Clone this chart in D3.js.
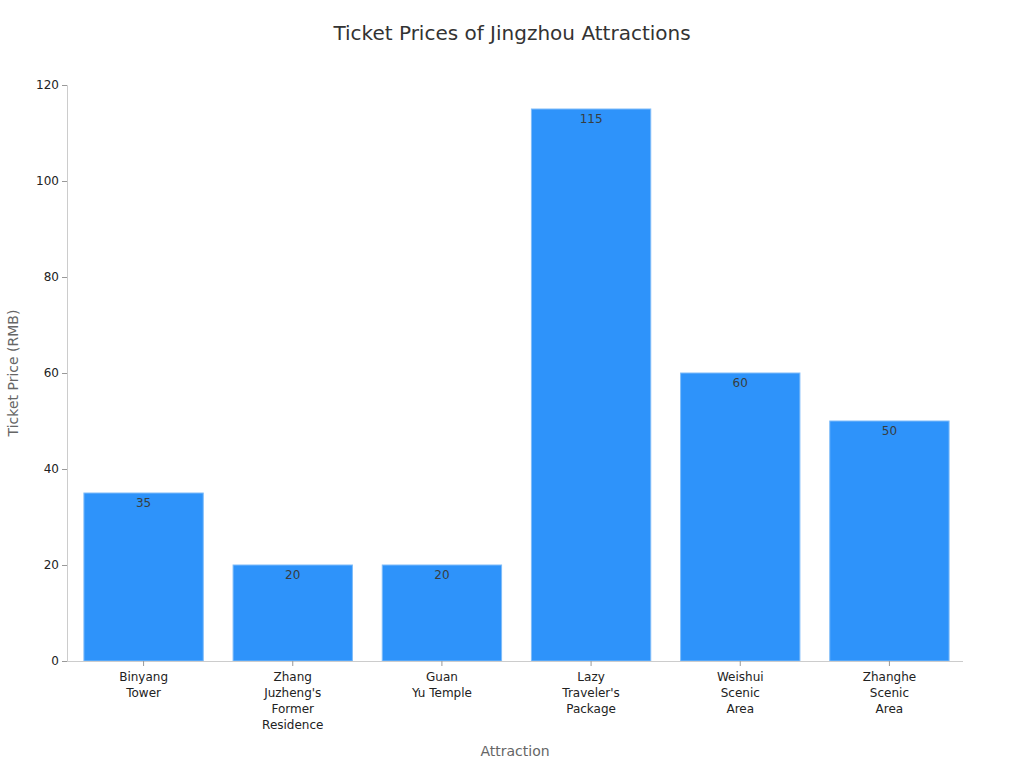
<!DOCTYPE html>
<html>
<head>
<meta charset="utf-8">
<script src="https://cdn.jsdelivr.net/npm/d3@7"></script>
<style>
  body { margin: 0; background: #fff; font-family: "DejaVu Sans", sans-serif; }
</style>
</head>
<body>
<div id="chart"></div>
<script>
// chart data
const attractions = [
  ["Binyang", "Tower"],
  ["Zhang", "Juzheng's", "Former", "Residence"],
  ["Guan", "Yu Temple"],
  ["Lazy", "Traveler's", "Package"],
  ["Weishui", "Scenic", "Area"],
  ["Zhanghe", "Scenic", "Area"]
];
const prices = [35, 20, 20, 115, 60, 50];
const yTicks = [0, 20, 40, 60, 80, 100, 120];

const width = 1024;
const height = 768;
const margin = { top: 85, right: 61, bottom: 107, left: 67 };

const svg = d3.select("#chart")
  .append("svg")
  .attr("width", width)
  .attr("height", height);

const names = attractions.map(d => d.join(" "));

// bands sit slightly right of the plot start, as in the original
const xScale = d3.scaleBand()
  .domain(names)
  .range([margin.left + 2, width - margin.right + 1])
  .paddingInner(0.2)
  .paddingOuter(0.1);

const yScale = d3.scaleLinear()
  .domain([0, 120])
  .range([height - margin.bottom, margin.top]);

// title
svg.append("text")
  .attr("x", 512)
  .attr("y", 40)
  .attr("text-anchor", "middle")
  .attr("font-size", 20)
  .attr("fill", "#333")
  .text("Ticket Prices of Jingzhou Attractions");

// bars
svg.append("g")
  .selectAll("rect")
  .data(prices)
  .join("rect")
  .attr("x", (d, i) => xScale(names[i]))
  .attr("y", d => yScale(d))
  .attr("width", xScale.bandwidth())
  .attr("height", d => yScale(0) - yScale(d))
  .attr("fill", "#2E93FA")
  .attr("stroke", "#7fbcf9")
  .attr("stroke-width", 1);

// value labels
svg.append("g")
  .selectAll("text")
  .data(prices)
  .join("text")
  .attr("x", (d, i) => xScale(names[i]) + xScale.bandwidth() / 2)
  .attr("y", d => yScale(d) + 14)
  .attr("text-anchor", "middle")
  .attr("font-size", 12)
  .attr("fill", "#373d3f")
  .text(d => d);

// y axis
const yAxis = svg.append("g")
  .attr("transform", `translate(${margin.left},0)`)
  .call(d3.axisLeft(yScale).tickValues(yTicks).tickSize(5).tickPadding(3));
yAxis.select(".domain").attr("stroke", "#ccc");
yAxis.selectAll(".tick line").attr("stroke", "#999");
yAxis.selectAll(".tick text")
  .attr("font-size", 12)
  .attr("font-family", "DejaVu Sans")
  .attr("fill", "#222");

// x axis
const xAxis = svg.append("g")
  .attr("transform", `translate(0,${height - margin.bottom})`)
  .call(d3.axisBottom(xScale).tickSize(5).tickSizeOuter(0).tickFormat(""));
xAxis.select(".domain")
  .attr("d", `M${margin.left},0.5H${width - margin.right}`)
  .attr("stroke", "#ccc");
xAxis.selectAll(".tick line").attr("stroke", "#999");

xAxis.selectAll(".tick")
  .each(function (d, i) {
    const t = d3.select(this).append("text")
      .attr("text-anchor", "middle")
      .attr("font-size", 12)
      .attr("font-family", "DejaVu Sans")
      .attr("fill", "#222")
      .attr("y", 20);
    attractions[i].forEach((line, j) => {
      t.append("tspan").attr("x", 0).attr("dy", j === 0 ? 0 : 16).text(line);
    });
  });

// axis titles
svg.append("text")
  .attr("x", (margin.left + width - margin.right) / 2)
  .attr("y", 756)
  .attr("text-anchor", "middle")
  .attr("font-size", 14)
  .attr("fill", "#666")
  .text("Attraction");

svg.append("text")
  .attr("transform", `translate(18, ${(margin.top + height - margin.bottom) / 2}) rotate(-90)`)
  .attr("text-anchor", "middle")
  .attr("font-size", 14)
  .attr("fill", "#666")
  .text("Ticket Price (RMB)");
</script>
</body>
</html>
